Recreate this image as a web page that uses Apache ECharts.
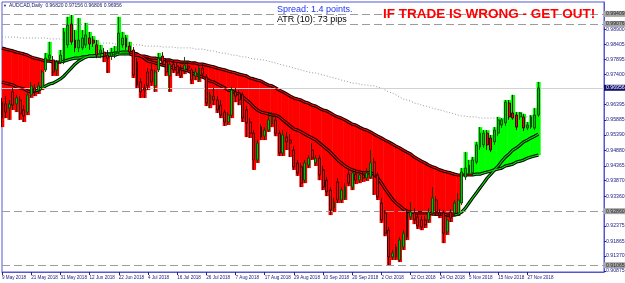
<!DOCTYPE html>
<html><head><meta charset="utf-8">
<script src="https://cdn.jsdelivr.net/npm/echarts@6/dist/echarts.min.js"></script>
<style>html,body{margin:0;padding:0;background:#fff}#c{width:625px;height:283px}</style>
</head><body><div id="c"></div>
<script>
// ---- data ----
const slotCount = 166; // weekday slots on the time axis, first = 9 May 2018
const open = [
0.9648,0.9642,0.9628,0.9682,0.9642,0.9655,0.9622,0.9615,0.9672,0.9695,
0.9688,0.9698,0.9755,0.9794,0.9788,0.9755,0.9781,0.9781,0.9838,0.9907,
0.9854,0.9828,0.9828,0.9838,0.9861,0.9854,0.9838,0.9811,0.9814,0.9804,
0.9801,0.9808,0.9814,0.9838,0.9861,0.9834,0.9821,0.9781,0.9715,0.9695,
0.9748,0.9755,0.9702,0.9755,0.9801,0.9781,0.9735,0.9774,0.9768,0.9755,
0.9755,0.9768,0.9755,0.9735,0.9721,0.9761,0.9731,0.9642,0.9668,0.9655,
0.9638,0.9615,0.9582,0.9605,0.9682,0.9678,0.9672,0.9622,0.9582,0.9545,
0.9456,0.9565,0.9535,0.9555,0.9575,0.9589,0.9545,0.9479,0.9532,0.9522,
0.9489,0.9446,0.9433,0.9389,0.9439,0.9489,0.9446,0.9462,0.9423,0.9389,
0.9356,0.9296,0.9383,0.9323,0.9330,0.9409,0.9366,0.9409,0.9389,0.9406,
0.9396,0.9399,0.9449,0.9406,0.9313,0.9280,0.9223,0.9134,0.9167,0.9124,
0.9167,0.9280,0.9267,0.9280,0.9267,0.9257,0.9257,0.9257,0.9280,0.9323,
0.9280,0.9280,0.9217,0.9283,0.9280,0.9280,0.9313,0.9399,0.9413,0.9413,
0.9449,0.9499,0.9506,0.9545,0.9529,0.9516,0.9545,0.9572,0.9579,0.9645,
0.9612,0.9605,0.9599,0.9599,0.9562,0.9565,0.9562,0.9605];
const close = [
0.9595,0.9615,0.9642,0.9638,0.9662,0.9609,0.9602,0.9672,0.9702,0.9682,
0.9702,0.9748,0.9794,0.9804,0.9748,0.9781,0.9804,0.9881,0.9904,0.9848,
0.9828,0.9854,0.9861,0.9871,0.9841,0.9844,0.9804,0.9821,0.9801,0.9794,
0.9811,0.9814,0.9877,0.9861,0.9831,0.9814,0.9738,0.9705,0.9682,0.9688,
0.9702,0.9715,0.9748,0.9794,0.9781,0.9748,0.9774,0.9755,0.9745,0.9735,
0.9771,0.9761,0.9721,0.9748,0.9761,0.9741,0.9645,0.9672,0.9655,0.9622,
0.9605,0.9582,0.9605,0.9688,0.9668,0.9655,0.9595,0.9579,0.9545,0.9456,
0.9512,0.9532,0.9555,0.9589,0.9599,0.9545,0.9479,0.9539,0.9516,0.9512,
0.9433,0.9413,0.9379,0.9446,0.9462,0.9462,0.9462,0.9406,0.9366,0.9350,
0.9290,0.9316,0.9323,0.9356,0.9366,0.9379,0.9413,0.9389,0.9406,0.9396,
0.9413,0.9446,0.9403,0.9333,0.9257,0.9213,0.9134,0.9147,0.9134,0.9190,
0.9213,0.9200,0.9283,0.9257,0.9237,0.9233,0.9240,0.9283,0.9330,0.9283,
0.9273,0.9213,0.9257,0.9263,0.9313,0.9323,0.9416,0.9429,0.9439,0.9456,
0.9506,0.9545,0.9545,0.9506,0.9489,0.9555,0.9589,0.9589,0.9648,0.9599,
0.9595,0.9565,0.9612,0.9562,0.9572,0.9599,0.9605,0.9695];
const high = [
0.9662,0.9668,0.9655,0.9695,0.9672,0.9668,0.9638,0.9682,0.9715,0.9708,
0.9715,0.9755,0.9811,0.9848,0.9801,0.9788,0.9821,0.9894,0.9931,0.9937,
0.9887,0.9927,0.9887,0.9911,0.9881,0.9867,0.9854,0.9838,0.9828,0.9821,
0.9828,0.9834,0.9931,0.9881,0.9871,0.9848,0.9831,0.9794,0.9728,0.9708,
0.9761,0.9774,0.9755,0.9811,0.9814,0.9794,0.9781,0.9788,0.9778,0.9771,
0.9798,0.9781,0.9761,0.9761,0.9768,0.9774,0.9741,0.9682,0.9695,0.9668,
0.9655,0.9622,0.9615,0.9698,0.9695,0.9688,0.9682,0.9635,0.9595,0.9555,
0.9522,0.9575,0.9565,0.9612,0.9615,0.9599,0.9555,0.9555,0.9549,0.9542,
0.9502,0.9456,0.9446,0.9456,0.9472,0.9512,0.9472,0.9472,0.9436,0.9399,
0.9366,0.9330,0.9396,0.9366,0.9379,0.9423,0.9423,0.9423,0.9416,0.9416,
0.9429,0.9489,0.9462,0.9416,0.9330,0.9290,0.9233,0.9157,0.9177,0.9200,
0.9223,0.9290,0.9316,0.9296,0.9276,0.9270,0.9270,0.9296,0.9366,0.9336,
0.9293,0.9290,0.9267,0.9293,0.9323,0.9346,0.9429,0.9482,0.9456,0.9466,
0.9516,0.9565,0.9555,0.9555,0.9539,0.9565,0.9599,0.9595,0.9655,0.9655,
0.9672,0.9615,0.9615,0.9609,0.9582,0.9605,0.9628,0.9715];
const low = [
0.9565,0.9595,0.9589,0.9622,0.9615,0.9589,0.9582,0.9605,0.9662,0.9668,
0.9675,0.9688,0.9748,0.9781,0.9735,0.9735,0.9774,0.9774,0.9828,0.9838,
0.9814,0.9814,0.9821,0.9828,0.9821,0.9831,0.9794,0.9794,0.9781,0.9745,
0.9788,0.9794,0.9808,0.9828,0.9821,0.9804,0.9728,0.9695,0.9662,0.9662,
0.9688,0.9702,0.9682,0.9748,0.9771,0.9735,0.9682,0.9745,0.9735,0.9728,
0.9741,0.9748,0.9708,0.9721,0.9715,0.9728,0.9635,0.9628,0.9638,0.9612,
0.9595,0.9569,0.9572,0.9595,0.9648,0.9638,0.9582,0.9532,0.9529,0.9423,
0.9446,0.9522,0.9522,0.9549,0.9565,0.9535,0.9469,0.9469,0.9489,0.9466,
0.9423,0.9403,0.9366,0.9379,0.9429,0.9456,0.9436,0.9389,0.9356,0.9336,
0.9273,0.9283,0.9313,0.9313,0.9323,0.9369,0.9356,0.9376,0.9379,0.9383,
0.9386,0.9393,0.9340,0.9323,0.9247,0.9203,0.9107,0.9124,0.9124,0.9117,
0.9157,0.9190,0.9257,0.9243,0.9227,0.9223,0.9230,0.9247,0.9273,0.9270,
0.9263,0.9180,0.9207,0.9250,0.9270,0.9270,0.9306,0.9389,0.9403,0.9406,
0.9442,0.9489,0.9496,0.9489,0.9482,0.9506,0.9535,0.9562,0.9569,0.9589,
0.9589,0.9555,0.9589,0.9552,0.9555,0.9559,0.9555,0.9599];
const slowMA = [
0.9828,0.9824,0.9821,0.9818,0.9814,0.9811,0.9808,0.9804,0.9798,0.9794,
0.9791,0.9788,0.9784,0.9784,0.9781,0.9781,0.9781,0.9784,0.9788,0.9791,
0.9794,0.9794,0.9798,0.9798,0.9801,0.9801,0.9801,0.9801,0.9804,0.9804,
0.9804,0.9804,0.9808,0.9808,0.9808,0.9808,0.9804,0.9804,0.9801,0.9801,
0.9798,0.9794,0.9794,0.9791,0.9791,0.9788,0.9788,0.9784,0.9784,0.9781,
0.9781,0.9781,0.9778,0.9778,0.9774,0.9774,0.9771,0.9768,0.9765,0.9761,
0.9758,0.9755,0.9751,0.9748,0.9745,0.9741,0.9738,0.9735,0.9728,0.9725,
0.9721,0.9718,0.9711,0.9705,0.9702,0.9695,0.9688,0.9682,0.9675,0.9668,
0.9662,0.9658,0.9655,0.9648,0.9645,0.9638,0.9635,0.9628,0.9622,0.9619,
0.9612,0.9605,0.9599,0.9595,0.9589,0.9582,0.9575,0.9572,0.9565,0.9559,
0.9555,0.9549,0.9542,0.9535,0.9529,0.9522,0.9516,0.9509,0.9502,0.9496,
0.9489,0.9482,0.9476,0.9466,0.9459,0.9452,0.9446,0.9439,0.9433,0.9429,
0.9423,0.9419,0.9416,0.9413,0.9409,0.9406,0.9406,0.9406,0.9406,0.9406,
0.9409,0.9409,0.9413,0.9416,0.9419,0.9423,0.9426,0.9429,0.9436,0.9439,
0.9442,0.9449,0.9452,0.9456,0.9462,0.9466,0.9469,0.9472];
const fastMA = [
0.9715,0.9711,0.9708,0.9705,0.9698,0.9695,0.9692,0.9685,0.9682,0.9685,
0.9688,0.9695,0.9702,0.9708,0.9711,0.9718,0.9725,0.9735,0.9748,0.9761,
0.9774,0.9784,0.9791,0.9798,0.9801,0.9801,0.9804,0.9804,0.9808,0.9808,
0.9808,0.9811,0.9811,0.9814,0.9814,0.9814,0.9811,0.9808,0.9801,0.9794,
0.9784,0.9781,0.9778,0.9774,0.9771,0.9768,0.9765,0.9761,0.9758,0.9758,
0.9755,0.9751,0.9745,0.9741,0.9735,0.9731,0.9725,0.9718,0.9715,0.9708,
0.9702,0.9695,0.9688,0.9685,0.9678,0.9675,0.9665,0.9655,0.9645,0.9632,
0.9622,0.9615,0.9612,0.9609,0.9605,0.9605,0.9599,0.9589,0.9579,0.9569,
0.9559,0.9555,0.9549,0.9542,0.9535,0.9529,0.9522,0.9512,0.9502,0.9492,
0.9482,0.9469,0.9456,0.9446,0.9436,0.9429,0.9423,0.9419,0.9416,0.9413,
0.9413,0.9413,0.9409,0.9396,0.9379,0.9360,0.9343,0.9326,0.9313,0.9303,
0.9293,0.9286,0.9283,0.9280,0.9280,0.9280,0.9280,0.9280,0.9276,0.9276,
0.9276,0.9276,0.9273,0.9273,0.9273,0.9276,0.9283,0.9296,0.9313,0.9330,
0.9346,0.9363,0.9379,0.9396,0.9409,0.9423,0.9436,0.9452,0.9466,0.9476,
0.9489,0.9496,0.9506,0.9516,0.9522,0.9529,0.9535,0.9542];
const longMA = [
0.9864,0.9864,0.9864,0.9864,0.9864,0.9861,0.9861,0.9861,0.9861,0.9861,
0.9861,0.9861,0.9861,0.9858,0.9858,0.9858,0.9858,0.9854,0.9854,0.9854,
0.9854,0.9851,0.9851,0.9851,0.9848,0.9848,0.9848,0.9844,0.9844,0.9844,
0.9844,0.9841,0.9841,0.9841,0.9841,0.9838,0.9838,0.9838,0.9838,0.9834,
0.9834,0.9834,0.9834,0.9834,0.9831,0.9831,0.9831,0.9831,0.9828,0.9828,
0.9828,0.9828,0.9828,0.9824,0.9824,0.9824,0.9821,0.9818,0.9818,0.9814,
0.9811,0.9811,0.9808,0.9804,0.9804,0.9801,0.9798,0.9798,0.9794,0.9791,
0.9791,0.9788,0.9788,0.9784,0.9781,0.9778,0.9774,0.9771,0.9768,0.9765,
0.9761,0.9758,0.9755,0.9751,0.9748,0.9745,0.9745,0.9741,0.9738,0.9735,
0.9731,0.9728,0.9725,0.9721,0.9718,0.9715,0.9711,0.9711,0.9708,0.9705,
0.9705,0.9702,0.9702,0.9698,0.9695,0.9688,0.9682,0.9678,0.9672,0.9665,
0.9658,0.9655,0.9652,0.9645,0.9642,0.9638,0.9635,0.9632,0.9628,0.9625,
0.9622,0.9619,0.9615,0.9612,0.9609,0.9605,0.9602,0.9602,0.9599,0.9599,
0.9599,0.9595,0.9595,0.9595,0.9595,0.9595,0.9595,0.9595,0.9595,0.9595,
0.9599,0.9599,0.9599,0.9599,0.9599,0.9602,0.9602,0.9602];
const priceTicks = [0.98900,0.98405,0.97895,0.97400,0.96395,0.95885,0.95390,0.94880,0.94365,0.93870,0.93360,0.92375,0.91865,0.91370,0.90875];
const levelLines = [0.99409, 0.99076, 0.92860, 0.91065];
const bidPrice = 0.96956;
const headerText = 'AUDCAD,Daily  0.96820 0.97156 0.96806 0.96956';
const spreadText = 'Spread: 1.4 points.';
const atrText = 'ATR (10): 73 pips';
const warnText = 'IF TRADE IS WRONG - GET OUT!';

// ---- build ----
const months = ['Jan','Feb','Mar','Apr','May','Jun','Jul','Aug','Sep','Oct','Nov','Dec'];
const categories = [];
const d = new Date(Date.UTC(2018, 4, 9));
while (categories.length < slotCount) {
  const wd = d.getUTCDay();
  if (wd > 0 && wd < 6) categories.push(d.getUTCDate() + ' ' + months[d.getUTCMonth()] + ' ' + d.getUTCFullYear());
  d.setUTCDate(d.getUTCDate() + 1);
}
const lastIdx = open.length - 1;
const candles = open.map((o, i) => [o, close[i], low[i], high[i]]);
const fillData = open.map((o, i) => {
  const up = close[i] > slowMA[i];
  return [i, slowMA[i], up ? high[i] : low[i], up ? 1 : 0];
});
function splitTrend(arr) {
  const dir = [];
  for (let i = 0; i < arr.length - 1; i++) {
    const df = arr[i + 1] - arr[i];
    dir.push(df > 0 ? 1 : df < 0 ? -1 : (i > 0 ? dir[i - 1] : -1));
  }
  const up = [], dn = [];
  for (let i = 0; i < arr.length; i++) {
    const a = i > 0 ? dir[i - 1] : null, b = i < dir.length ? dir[i] : null;
    up.push(a === 1 || b === 1 ? arr[i] : null);
    dn.push(a === -1 || b === -1 ? arr[i] : null);
  }
  return { up, dn };
}
const slowS = splitTrend(slowMA), fastS = splitTrend(fastMA);
const frame = '#5656d2';
const axisText = '#20208a';
const FONT = 'Liberation Sans';
const showIdx = (i) => i % 8 === 0 && i <= lastIdx;

function outline(data) {
  return { type: 'line', data, showSymbol: false, symbol: 'none', z: 4, silent: true,
    lineStyle: { color: '#000', width: 3.2 }, animation: false };
}
function inner(data, color) {
  return { type: 'line', data, showSymbol: false, symbol: 'none', z: 5, silent: true,
    lineStyle: { color, width: 1.1 }, animation: false };
}

const chart = echarts.init(document.getElementById('c'), null, { renderer: 'canvas' });
chart.setOption({
  animation: false,
  backgroundColor: '#ffffff',
  grid: { left: 2, right: 21, top: 2, bottom: 11, show: true, borderColor: frame, borderWidth: 1,
          backgroundColor: '#fff', containLabel: false, outerBoundsMode: 'none' },
  xAxis: {
    type: 'category', data: categories, boundaryGap: false,
    axisLine: { show: true, lineStyle: { color: frame, width: 1 } },
    axisTick: { show: true, length: 3, interval: (i) => showIdx(i), lineStyle: { color: axisText } },
    axisLabel: { interval: 0, formatter: (v, i) => (showIdx(i) ? v : ''), fontSize: 4.6, color: axisText, align: 'left',
                 margin: 3, fontFamily: FONT, hideOverlap: false },
    splitLine: { show: false }
  },
  yAxis: {
    type: 'value', position: 'right', min: 0.9084, max: 0.99804, scale: true,
    splitLine: { show: false },
    axisLine: { show: true, lineStyle: { color: frame, width: 1 } },
    axisTick: { show: true, customValues: priceTicks, length: 2, lineStyle: { color: axisText } },
    axisLabel: { customValues: priceTicks, formatter: (v) => Number(v).toFixed(5), fontSize: 5.2,
                 color: axisText, margin: 2, fontFamily: FONT, hideOverlap: false }
  },
  series: [
    {
      type: 'custom', z: 1, silent: true, clip: true,
      data: fillData, encode: { x: 0, y: [1, 2] },
      renderItem: function (params, api) {
        const i = api.value(0);
        const a = api.coord([i, api.value(1)]);
        const b = api.coord([i, api.value(2)]);
        let w = api.size([1, 0])[0];
        if (!(w > 0)) w = 3.65;
        return {
          type: 'rect',
          shape: { x: a[0] - w / 2, y: Math.min(a[1], b[1]), width: w + 0.5, height: Math.abs(b[1] - a[1]) },
          style: { fill: api.value(3) ? '#00ff00' : '#ff0000' }
        };
      }
    },
    {
      type: 'line', data: longMA, showSymbol: false, symbol: 'none', z: 3, silent: true,
      lineStyle: { color: '#999999', width: 1, type: [1, 2] },
      markLine: {
        symbol: 'none', silent: true, animation: false, precision: 5,
        data: levelLines.map(v => ({
          yAxis: v,
          lineStyle: { type: [8, 4], color: '#9c9c9c', width: 1.2 },
          label: { show: true, position: 'end', distance: 0, formatter: (p) => Number(p.value).toFixed(5),
                   fontSize: 5.2, fontFamily: FONT, color: '#2a2a2a', backgroundColor: '#a6a6a6', padding: [1, 2, 0, 2] }
        })).concat([{
          yAxis: bidPrice,
          lineStyle: { type: 'solid', color: '#d2d2d2', width: 1 },
          label: { show: true, position: 'end', distance: 0, formatter: (p) => Number(p.value).toFixed(5),
                   fontSize: 5.2, fontFamily: FONT, color: '#ffffff', backgroundColor: '#10106a', padding: [1, 2, 0, 2] }
        }])
      }
    },
    outline(slowMA), inner(slowS.dn, '#ff0000'), inner(slowS.up, '#00e000'),
    outline(fastMA), inner(fastS.dn, '#ff0000'), inner(fastS.up, '#00e000'),
    {
      type: 'candlestick', data: candles, z: 6, barWidth: 2.4, silent: true,
      itemStyle: { color: '#00c400', color0: '#ff0000', borderColor: '#004200', borderColor0: '#300000', borderWidth: 0.9 }
    }
  ],
  graphic: [
    { type: 'text', x: 3, y: 6, z: 100, style: { text: '▼', font: '4px "' + FONT + '"', fill: '#1a1a6e', verticalAlign: 'middle' } },
    { type: 'text', x: 9, y: 6, z: 100, style: { text: headerText, font: '5px "' + FONT + '"', fill: '#14145a', verticalAlign: 'middle' } },
    { type: 'text', x: 277, y: 10, z: 100, style: { text: spreadText, font: '9px "' + FONT + '"', fill: '#1e32f0', verticalAlign: 'middle' } },
    { type: 'text', x: 277, y: 20, z: 100, style: { text: atrText, font: '9px "' + FONT + '"', fill: '#000000', verticalAlign: 'middle' } },
    { type: 'text', x: 383, y: 14, z: 100, style: { text: warnText, font: 'bold 13.5px "' + FONT + '"', fill: '#ff0000', verticalAlign: 'middle' } }
  ]
});
</script>
</body></html>
